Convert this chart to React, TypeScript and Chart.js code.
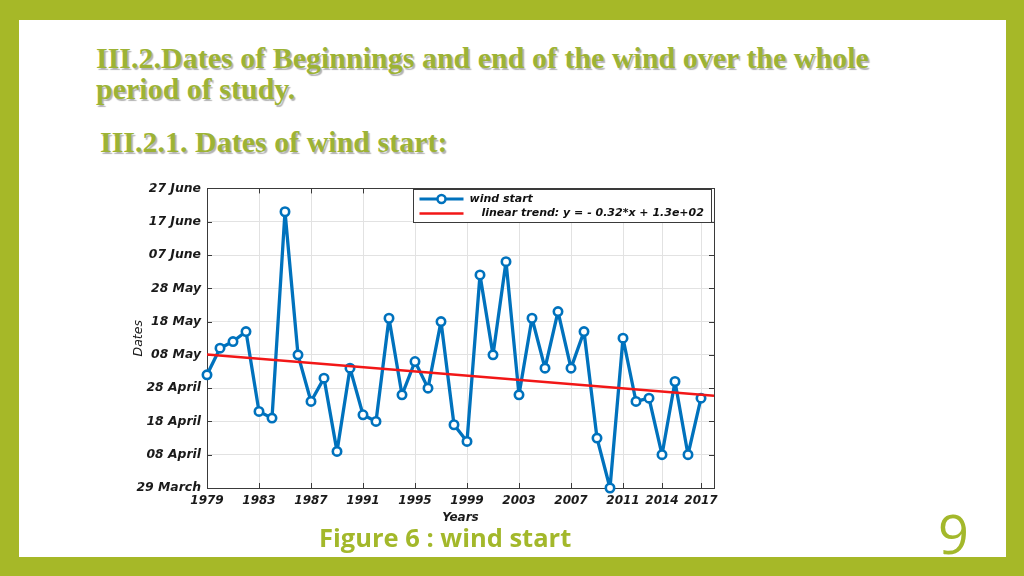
import React, { useEffect, useRef } from "react";
import { Chart, registerables } from "chart.js";

Chart.register(...registerables);

// ---- data ----
const years = [
  1979, 1980, 1981, 1982, 1983, 1984, 1985, 1986, 1987, 1988, 1989, 1990, 1991,
  1992, 1993, 1994, 1995, 1996, 1997, 1998, 1999, 2000, 2001, 2002, 2003, 2004,
  2005, 2006, 2007, 2008, 2009, 2010, 2011, 2012, 2013, 2014, 2015, 2016, 2017,
];
// wind start date, as day of year (88 = 29 March)
const windStartDay = [
  122, 130, 132, 135, 111, 109, 171, 128, 114, 121, 99, 124, 110,
  108, 139, 116, 126, 118, 138, 107, 102, 152, 128, 156, 116, 139,
  124, 141, 124, 135, 103, 88, 133, 114, 115, 98, 120, 98, 115,
];
const trendYears = [1979, 2018];
const trendDay = [128.1, 115.7];

const xTickYears = [1979, 1983, 1987, 1991, 1995, 1999, 2003, 2007, 2011, 2014, 2017];
const yTickDays = [88, 98, 108, 118, 128, 138, 148, 158, 168, 178];
const yTickLabels = [
  "29 March", "08 April", "18 April", "28 April", "08 May",
  "18 May", "28 May", "07 June", "17 June", "27 June",
];

const seriesLabel = "wind start";
const trendLabel = "linear trend: y = - 0.32*x + 1.3e+02";

const BLUE = "#0072BD";
const RED = "#f21717";
const GREEN = "rgb(166,184,40)";
const TEXT_GREEN = "#9db335";

const tickFont = { family: "'DejaVu Sans'", size: 12, style: "italic" as const, weight: "bold" as const };

const framePlugin = {
  id: "frame",
  beforeDatasetsDraw(chart: any) {
    const { ctx, chartArea, scales } = chart;
    const { left, right, top, bottom } = chartArea;
    ctx.save();
    ctx.strokeStyle = "#3a3a3a";
    ctx.lineWidth = 1;
    ctx.beginPath();
    const L = 5;
    for (const v of yTickDays) {
      const y = Math.round(scales.y.getPixelForValue(v)) + 0.5;
      ctx.moveTo(left, y); ctx.lineTo(left + L, y);
      ctx.moveTo(right, y); ctx.lineTo(right - L, y);
    }
    for (const v of xTickYears) {
      const x = Math.round(scales.x.getPixelForValue(v)) + 0.5;
      ctx.moveTo(x, bottom); ctx.lineTo(x, bottom - L);
      ctx.moveTo(x, top); ctx.lineTo(x, top + L);
    }
    ctx.stroke();
    ctx.strokeRect(Math.round(left) + 0.5, Math.round(top) + 0.5, Math.round(right - left), Math.round(bottom - top));
    ctx.restore();
  },
};

const legendPlugin = {
  id: "boxLegend",
  afterDraw(chart: any) {
    const { ctx, chartArea } = chart;
    const w = 298;
    const h = 33;
    const x0 = Math.round(chartArea.right - w - 3) + 0.5;
    const y0 = Math.round(chartArea.top + 1) + 0.5;
    ctx.save();
    ctx.fillStyle = "#ffffff";
    ctx.fillRect(x0, y0, w, h);
    ctx.strokeStyle = "#3a3a3a";
    ctx.lineWidth = 1;
    ctx.strokeRect(x0, y0, w, h);
    const ds0 = chart.data.datasets[1];
    const ds1 = chart.data.datasets[0];
    // row 1
    const r1 = y0 + 9.5;
    ctx.strokeStyle = ds0.borderColor;
    ctx.lineWidth = 3;
    ctx.beginPath();
    ctx.moveTo(x0 + 6, r1); ctx.lineTo(x0 + 50, r1);
    ctx.stroke();
    ctx.beginPath();
    ctx.lineWidth = 2.5;
    ctx.fillStyle = "#fff";
    ctx.arc(x0 + 28, r1, 4, 0, Math.PI * 2);
    ctx.fill();
    ctx.stroke();
    // row 2
    const r2 = y0 + 24;
    ctx.strokeStyle = ds1.borderColor;
    ctx.lineWidth = 2.5;
    ctx.beginPath();
    ctx.moveTo(x0 + 6, r2); ctx.lineTo(x0 + 50, r2);
    ctx.stroke();
    ctx.fillStyle = "#111";
    ctx.font = "italic bold 11px 'DejaVu Sans'";
    ctx.textBaseline = "middle";
    ctx.fillText(ds0.label, x0 + 56, r1);
    ctx.fillText(ds1.label, x0 + 68, r2);
    ctx.restore();
  },
};

function WindChart() {
  const ref = useRef<HTMLCanvasElement | null>(null);
  useEffect(() => {
    if (!ref.current) return;
    const chart = new Chart(ref.current, {
      type: "line",
      data: {
        datasets: [
          {
            label: trendLabel,
            data: trendYears.map((x, i) => ({ x, y: trendDay[i] })),
            borderColor: RED,
            borderWidth: 2.5,
            pointRadius: 0,
            fill: false,
            order: 0,
          },
          {
            label: seriesLabel,
            data: years.map((x, i) => ({ x, y: windStartDay[i] })),
            borderColor: BLUE,
            borderWidth: 3.3,
            borderJoinStyle: "round",
            pointRadius: 4.2,
            pointBorderWidth: 2.6,
            pointBackgroundColor: "#ffffff",
            pointBorderColor: BLUE,
            fill: false,
            clip: false,
            order: 1,
          } as any,
        ],
      },
      options: {
        responsive: false,
        maintainAspectRatio: false,
        animation: false,
        layout: { padding: { top: 12, right: 16, left: 0, bottom: 0 } },
        plugins: { legend: { display: false }, tooltip: { enabled: false } },
        scales: {
          x: {
            type: "linear",
            min: 1979,
            max: 2018,
            afterBuildTicks: (s: any) => {
              s.ticks = xTickYears.map((v) => ({ value: v }));
            },
            afterFit: (s: any) => {
              s.height = 37;
            },
            ticks: {
              autoSkip: false,
              maxRotation: 0,
              padding: 6,
              color: "#1a1a1a",
              font: tickFont,
              callback: (v: any) => String(v),
            },
            grid: { color: "#e2e2e2", lineWidth: 1, drawTicks: false },
            border: { display: false },
            title: {
              display: true,
              text: "Years",
              color: "#1a1a1a",
              font: tickFont,
              padding: { top: 0, bottom: 0 },
            },
          },
          y: {
            type: "linear",
            min: 88,
            max: 178,
            afterBuildTicks: (s: any) => {
              s.ticks = yTickDays.map((v) => ({ value: v }));
            },
            afterFit: (s: any) => {
              s.width = 87;
            },
            ticks: {
              padding: 6,
              color: "#1a1a1a",
              font: { ...tickFont, size: 12.4 },
              callback: (v: any) => yTickLabels[yTickDays.indexOf(Number(v))] ?? "",
            },
            grid: { color: "#e2e2e2", lineWidth: 1, drawTicks: false },
            border: { display: false },
            title: {
              display: true,
              text: "Dates",
              color: "#1a1a1a",
              font: { family: "'DejaVu Sans'", size: 12.5, style: "italic" },
              padding: { top: 11, bottom: 0 },
            },
          },
        },
      },
      plugins: [framePlugin, legendPlugin],
    });
    return () => chart.destroy();
  }, []);
  return (
    <canvas
      ref={ref}
      width={610}
      height={350}
      style={{ position: "absolute", left: 120, top: 175, width: 610, height: 350 }}
    />
  );
}

export default function App() {
  useEffect(() => {
    document.body.style.margin = "0";
  }, []);
  const titleStyle: React.CSSProperties = {
    position: "absolute",
    fontFamily: "'Liberation Serif', 'Times New Roman', serif",
    fontWeight: "bold",
    fontSize: 30,
    color: TEXT_GREEN,
    textShadow: "1.5px 1.5px 1px rgba(0,0,0,0.3)",
    whiteSpace: "nowrap",
    transformOrigin: "left top",
    margin: 0,
  };
  return (
    <div
      style={{
        position: "absolute",
        left: 0,
        top: 0,
        width: 1024,
        height: 576,
        background: GREEN,
        overflow: "hidden",
      }}
    >
      <div
        style={{
          position: "absolute",
          left: 19,
          top: 20,
          width: 987,
          height: 537,
          background: "#ffffff",
        }}
      />
      <div style={{ ...titleStyle, left: 96, top: 42, lineHeight: "31px" }}>
        III.2.Dates of Beginnings and end of the wind over the whole
        <br />
        period of study.
      </div>
      <div style={{ ...titleStyle, left: 100, top: 127, lineHeight: "30px" }}>
        III.2.1. Dates of wind start:
      </div>
      <WindChart />
      <div
        style={{
          position: "absolute",
          left: 319,
          top: 520,
          fontFamily: "'Open Sans', Lato, sans-serif",
          fontWeight: 700,
          fontSize: 25.5,
          lineHeight: "34px",
          color: "#a3b82b",
          whiteSpace: "nowrap",
        }}
      >
        Figure 6 : wind start
      </div>
      <div
        style={{
          position: "absolute",
          left: 938,
          top: 503,
          fontFamily: "'Open Sans', Lato, sans-serif",
          fontWeight: 400,
          fontSize: 54,
          lineHeight: "60px",
          color: "#a3b82b",
        }}
      >
        9
      </div>
    </div>
  );
}
